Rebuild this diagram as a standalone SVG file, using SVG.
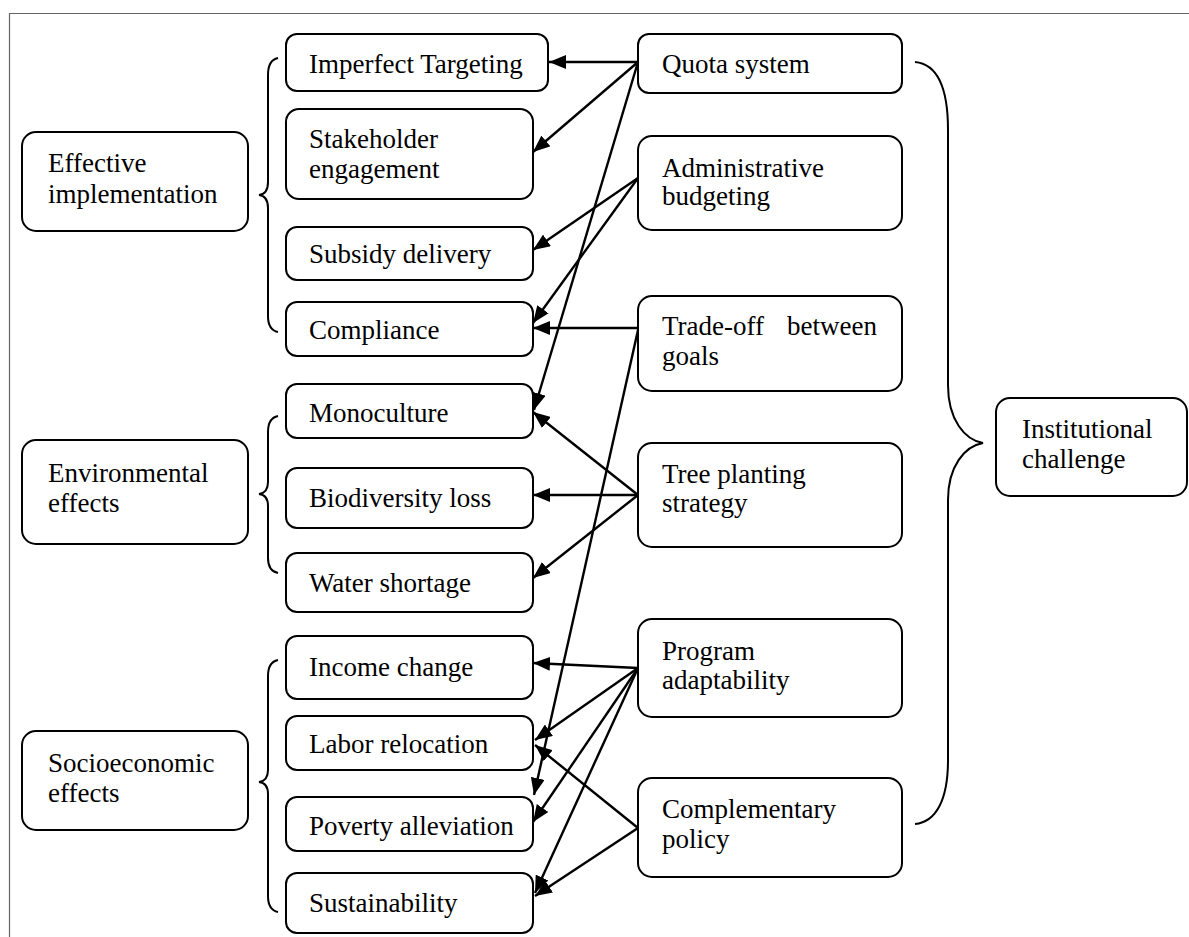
<svg xmlns="http://www.w3.org/2000/svg" width="1189" height="937" viewBox="0 0 1189 937">
<defs>
<style>
.box{fill:#fff;stroke:#000;stroke-width:2}
.t{font-family:"Liberation Serif","Times New Roman",serif;font-size:27px;fill:#000}
.brace{fill:none;stroke:#000;stroke-width:2}
.con line{stroke:#000;stroke-width:2.4;marker-end:url(#ah)}
</style>
<marker id="ah" markerUnits="userSpaceOnUse" markerWidth="18" markerHeight="14" refX="17" refY="7" orient="auto">
<path d="M0,0 L17,7 L0,14 z" fill="#000"/>
</marker>
</defs>
<rect width="1189" height="937" fill="#fff"/>
<polyline points="9.5,937 9.5,13.5 1189,13.5" fill="none" stroke="#666" stroke-width="1.2"/>

<g id="effective-implementation"><rect class="box" x="22" y="132" width="226" height="99" rx="14"/><text class="t" x="48" y="172">Effective</text><text class="t" x="48" y="203">implementation</text></g>
<g id="environmental-effects"><rect class="box" x="22" y="440" width="226" height="104" rx="14"/><text class="t" x="48" y="482">Environmental</text><text class="t" x="48" y="512">effects</text></g>
<g id="socioeconomic-effects"><rect class="box" x="22" y="731" width="226" height="99" rx="14"/><text class="t" x="48" y="772">Socioeconomic</text><text class="t" x="48" y="802">effects</text></g>

<g id="braces">
<path class="brace" d="M278,58 Q268,60 268,75 L268,182 Q268,194 259,195 Q268,196 268,208 L268,316 Q268,330 278,332"/>
<path class="brace" d="M278,416 Q268,418 268,432 L268,482 Q268,493 259,494 Q268,495 268,506 L268,558 Q268,571 278,573"/>
<path class="brace" d="M278,660 Q268,662 268,676 L268,770 Q268,781 259,782 Q268,783 268,794 L268,896 Q268,910 278,912"/>
<path class="brace" d="M915,62 C936,64 948,85 948,130 L948,385 C948,420 965,440 983,443 C965,446 948,466 948,500 L948,760 C948,800 936,822 915,824"/>
</g>

<g id="imperfect-targeting"><rect class="box" x="286" y="34" width="262" height="57" rx="11"/><text class="t" x="309" y="73">Imperfect Targeting</text></g>
<g id="stakeholder-engagement"><rect class="box" x="286" y="109" width="247" height="90" rx="13"/><text class="t" x="309" y="148">Stakeholder</text><text class="t" x="309" y="178">engagement</text></g>
<g id="subsidy-delivery"><rect class="box" x="286" y="227" width="247" height="53" rx="11"/><text class="t" x="309" y="263">Subsidy delivery</text></g>
<g id="compliance"><rect class="box" x="286" y="302" width="247" height="54" rx="11"/><text class="t" x="309" y="339">Compliance</text></g>
<g id="monoculture"><rect class="box" x="286" y="384" width="247" height="54" rx="11"/><text class="t" x="309" y="422">Monoculture</text></g>
<g id="biodiversity-loss"><rect class="box" x="286" y="468" width="247" height="60" rx="11"/><text class="t" x="309" y="507">Biodiversity loss</text></g>
<g id="water-shortage"><rect class="box" x="286" y="553" width="247" height="59" rx="11"/><text class="t" x="309" y="592">Water shortage</text></g>
<g id="income-change"><rect class="box" x="286" y="636" width="247" height="63" rx="11"/><text class="t" x="309" y="676">Income change</text></g>
<g id="labor-relocation"><rect class="box" x="286" y="716" width="247" height="54" rx="11"/><text class="t" x="309" y="753">Labor relocation</text></g>
<g id="poverty-alleviation"><rect class="box" x="286" y="797" width="247" height="54" rx="11"/><text class="t" x="309" y="835">Poverty alleviation</text></g>
<g id="sustainability"><rect class="box" x="286" y="873" width="247" height="60" rx="11"/><text class="t" x="309" y="912">Sustainability</text></g>

<g id="quota-system"><rect class="box" x="638" y="34" width="264" height="59" rx="11"/><text class="t" x="662" y="73">Quota system</text></g>
<g id="administrative-budgeting"><rect class="box" x="638" y="136" width="264" height="94" rx="14"/><text class="t" x="662" y="177">Administrative</text><text class="t" x="662" y="205">budgeting</text></g>
<g id="trade-off"><rect class="box" x="638" y="296" width="264" height="95" rx="14"/><text class="t" x="662" y="335">Trade-off</text><text class="t" x="877" y="335" text-anchor="end">between</text><text class="t" x="662" y="365">goals</text></g>
<g id="tree-planting-strategy"><rect class="box" x="638" y="443" width="264" height="104" rx="14"/><text class="t" x="662" y="483">Tree planting</text><text class="t" x="662" y="512">strategy</text></g>
<g id="program-adaptability"><rect class="box" x="638" y="619" width="264" height="98" rx="14"/><text class="t" x="662" y="660">Program</text><text class="t" x="662" y="689">adaptability</text></g>
<g id="complementary-policy"><rect class="box" x="638" y="778" width="264" height="99" rx="14"/><text class="t" x="662" y="818">Complementary</text><text class="t" x="662" y="848">policy</text></g>
<g id="institutional-challenge"><rect class="box" x="996" y="398" width="191" height="98" rx="14"/><text class="t" x="1022" y="438">Institutional</text><text class="t" x="1022" y="468">challenge</text></g>

<g id="connectors" class="con">
<line x1="638" y1="62" x2="549" y2="62"/>
<line x1="638" y1="62" x2="533" y2="152"/>
<line x1="638" y1="62" x2="534" y2="410"/>
<line x1="638" y1="178" x2="533" y2="250"/>
<line x1="638" y1="178" x2="533" y2="323"/>
<line x1="638" y1="328" x2="533" y2="328"/>
<line x1="638" y1="330" x2="534" y2="795"/>
<line x1="638" y1="495" x2="533" y2="412"/>
<line x1="638" y1="495" x2="533" y2="495"/>
<line x1="638" y1="495" x2="533" y2="578"/>
<line x1="638" y1="668" x2="533" y2="663"/>
<line x1="638" y1="668" x2="535" y2="740"/>
<line x1="638" y1="668" x2="533" y2="822"/>
<line x1="638" y1="668" x2="535" y2="893"/>
<line x1="638" y1="828" x2="535" y2="745"/>
<line x1="638" y1="828" x2="535" y2="896"/>
</g>
</svg>
